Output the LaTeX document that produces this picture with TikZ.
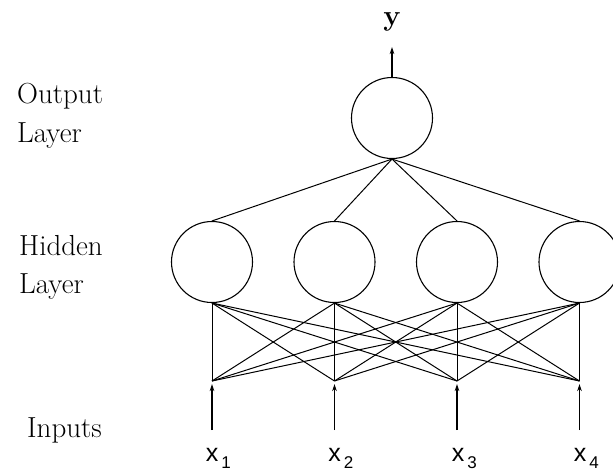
\documentclass[tikz,border=0pt]{standalone}
\usepackage{fontspec}
\newfontfamily\xsans{Liberation Sans}
\usetikzlibrary{arrows.meta}
\begin{document}
\begin{tikzpicture}[x=1pt,y=-1pt,
  neuron/.style={draw,circle,minimum size=81pt,inner sep=0pt,line width=1.1pt},
  conn/.style={line width=1pt},
  inarrow/.style={line width=1.1pt,-{Stealth[length=7pt,width=4.5pt]}},
  lbl/.style={anchor=base west,inner sep=0pt,font=\fontsize{29}{29}\selectfont},
  xlbl/.style={anchor=base,inner sep=0pt,font=\xsans\fontsize{25}{25}\selectfont}]
\useasboundingbox (0,0) rectangle (613,472);
% output layer
\node[neuron] (o) at (392,118) {};
\node[anchor=base,inner sep=0pt,font=\fontsize{29}{29}\selectfont\bfseries] (ylab) at (392,25) {y};
\coordinate (otip) at (392,47);
\draw[inarrow] (o.north) -- (otip);
% hidden layer
\foreach \i/\x in {1/212,2/334.5,3/457,4/579.5}{
  \node[neuron] (h\i) at (\x,262) {};
  \draw[conn] (o.south) -- (h\i.north);
  \coordinate (in\i) at (\x,430);
  \coordinate (a\i) at (\x,384);
  \coordinate (f\i) at (\x,381);
}
\foreach \i in {1,...,4}{
  \draw[inarrow] (in\i) -- (a\i);
  \draw[conn] (f\i) -- (h\i.south);
  \foreach \j in {1,...,4}{
    \ifnum\i=\j\else\draw[conn] (f\i) -- (h\j.south);\fi
  }
}
% input labels
\foreach \i/\x in {1/212,2/334.5,3/458,4/580}{
  \node[xlbl] (x\i) at (\x,461) {x\rlap{\raisebox{-7pt}{\hspace{3pt}\fontsize{17}{17}\selectfont\i}}};
}
% layer labels
\node[lbl] (out1) at (17,103) {Output};
\node[lbl] (out2) at (17,142) {Layer};
\node[lbl] (hid1) at (19,255) {Hidden};
\node[lbl] (hid2) at (19,293) {Layer};
\node[lbl] (inp) at (27,437) {Inputs};
\end{tikzpicture}
\end{document}
